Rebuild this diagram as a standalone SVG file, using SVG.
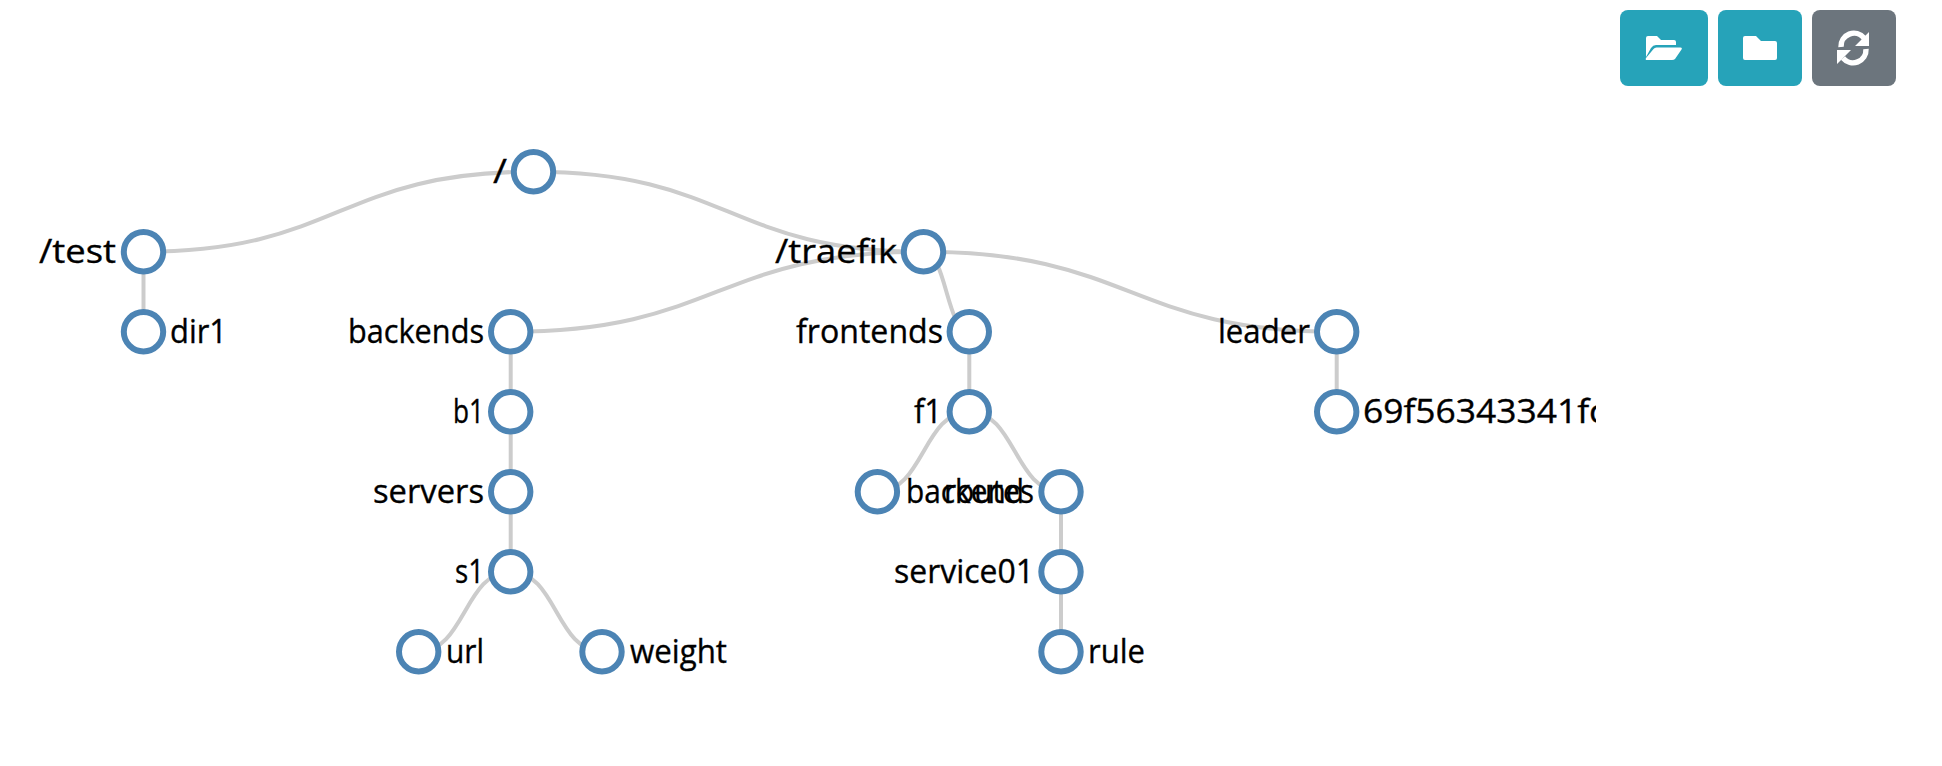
<svg xmlns="http://www.w3.org/2000/svg" width="1942" height="766" viewBox="0 0 1942 766">
<style>
.link{fill:none;stroke:#ccc;stroke-width:4}
.node circle{fill:#fff;stroke:#4c84b4;stroke-width:6}
.node text{font-family:"Open Sans","Liberation Sans",sans-serif;font-size:32px;fill:#000;stroke:#000;stroke-width:.35}
.e{text-anchor:end}
</style>
<defs><clipPath id="c"><rect x="0" y="0" width="1596" height="766"/></clipPath></defs>
<rect width="1942" height="766" fill="#fff"/>
<g id="connectors">
<path class="link" d="M533.5 171.7C338.5 171.7 338.5 251.7 143.5 251.7"/>
<path class="link" d="M533.5 171.7C728.5 171.7 728.5 251.7 923.5 251.7"/>
<path class="link" d="M143.5 251.7V331.7"/>
<path class="link" d="M923.5 251.7C717 251.7 717 331.7 510.7 331.7"/>
<path class="link" d="M923.5 251.7C946.4 251.7 946.4 331.7 969.3 331.7"/>
<path class="link" d="M923.5 251.7C1130 251.7 1130 331.7 1336.7 331.7"/>
<path class="link" d="M510.7 331.7V571.7"/>
<path class="link" d="M510.7 571.7C464.7 571.7 464.7 651.7 418.7 651.7"/>
<path class="link" d="M510.7 571.7C556.4 571.7 556.4 651.7 602 651.7"/>
<path class="link" d="M969.3 331.7V411.7"/>
<path class="link" d="M969.3 411.7C923.4 411.7 923.4 491.7 877.4 491.7"/>
<path class="link" d="M969.3 411.7C1015 411.7 1015 491.7 1061 491.7"/>
<path class="link" d="M1061 491.7V651.7"/>
<path class="link" d="M1336.7 331.7V411.7"/>
</g>
<g id="n-root" class="node"><circle cx="533.5" cy="171.7" r="19.7"/><text class="e" x="507" y="182.5" textLength="14" lengthAdjust="spacingAndGlyphs">/</text></g>
<g id="n-test" class="node"><circle cx="143.5" cy="251.7" r="19.7"/><text class="e" x="116" y="262.5" textLength="77" lengthAdjust="spacingAndGlyphs">/test</text></g>
<g id="n-dir1" class="node"><circle cx="143.5" cy="331.7" r="19.7"/><text x="170" y="342.5" textLength="57" lengthAdjust="spacingAndGlyphs">dir1</text></g>
<g id="n-traefik" class="node"><circle cx="923.5" cy="251.7" r="19.7"/><text class="e" x="897" y="262.5" textLength="122" lengthAdjust="spacingAndGlyphs">/traefik</text></g>
<g id="n-backends" class="node"><circle cx="510.7" cy="331.7" r="19.7"/><text class="e" x="484" y="342.5" textLength="136" lengthAdjust="spacingAndGlyphs">backends</text></g>
<g id="n-b1" class="node"><circle cx="510.7" cy="411.7" r="19.7"/><text class="e" x="484" y="422.5" textLength="31" lengthAdjust="spacingAndGlyphs">b1</text></g>
<g id="n-servers" class="node"><circle cx="510.7" cy="491.7" r="19.7"/><text class="e" x="484" y="502.5" textLength="111" lengthAdjust="spacingAndGlyphs">servers</text></g>
<g id="n-s1" class="node"><circle cx="510.7" cy="571.7" r="19.7"/><text class="e" x="484" y="582.5" textLength="29" lengthAdjust="spacingAndGlyphs">s1</text></g>
<g id="n-url" class="node"><circle cx="418.7" cy="651.7" r="19.7"/><text x="446" y="662.5" textLength="38" lengthAdjust="spacingAndGlyphs">url</text></g>
<g id="n-weight" class="node"><circle cx="602" cy="651.7" r="19.7"/><text x="630" y="662.5" textLength="97" lengthAdjust="spacingAndGlyphs">weight</text></g>
<g id="n-frontends" class="node"><circle cx="969.3" cy="331.7" r="19.7"/><text class="e" x="943" y="342.5" textLength="147" lengthAdjust="spacingAndGlyphs">frontends</text></g>
<g id="n-f1" class="node"><circle cx="969.3" cy="411.7" r="19.7"/><text class="e" x="942" y="422.5" textLength="28" lengthAdjust="spacingAndGlyphs">f1</text></g>
<g id="n-backend" class="node"><circle cx="877.4" cy="491.7" r="19.7"/><text x="906" y="502.5" textLength="118" lengthAdjust="spacingAndGlyphs">backend</text></g>
<g id="n-routes" class="node"><circle cx="1061" cy="491.7" r="19.7"/><text class="e" x="1034" y="502.5" textLength="90" lengthAdjust="spacingAndGlyphs">routes</text></g>
<g id="n-service01" class="node"><circle cx="1061" cy="571.7" r="19.7"/><text class="e" x="1034" y="582.5" textLength="140" lengthAdjust="spacingAndGlyphs">service01</text></g>
<g id="n-rule" class="node"><circle cx="1061" cy="651.7" r="19.7"/><text x="1088" y="662.5" textLength="57" lengthAdjust="spacingAndGlyphs">rule</text></g>
<g id="n-leader" class="node"><circle cx="1336.7" cy="331.7" r="19.7"/><text class="e" x="1310" y="342.5" textLength="92" lengthAdjust="spacingAndGlyphs">leader</text></g>
<g id="n-69f" class="node" clip-path="url(#c)"><circle cx="1336.7" cy="411.7" r="19.7"/><text x="1363" y="422.5" textLength="243" lengthAdjust="spacingAndGlyphs">69f56343341fc</text></g>
<g id="btn-open"><rect x="1620" y="10" width="88" height="76" rx="8" fill="#26a3b9"/><path fill="#fff" d="M1646 57V38q0-2 2-2h9l4 4h13q2 0 2 2v3h-20q-3 0-5 3zM1653.5 49q1-1.5 3-1.5h24q2 0 1 2l-6.5 9.5q-1 1-3 1h-25q-2 0-1-2z"/></g>
<g id="btn-folder"><rect x="1718" y="10" width="84" height="76" rx="8" fill="#26a3b9"/><path fill="#fff" d="M1743 38q0-2 2-2h11l5 5h14q2 0 2 2v15q0 2-2 2h-30q-2 0-2-2z"/></g>
<g id="btn-refresh"><rect x="1812" y="10" width="84" height="76" rx="8" fill="#6c757d"/><g fill="none" stroke="#fff" stroke-width="5.5"><path d="M1841 47a13 13 0 0 1 23-9"/><path d="M1866 49a13 13 0 0 1-23 9"/></g><path fill="#fff" d="M1869 32v14h-14zM1837 64V50h14z"/></g>
</svg>
